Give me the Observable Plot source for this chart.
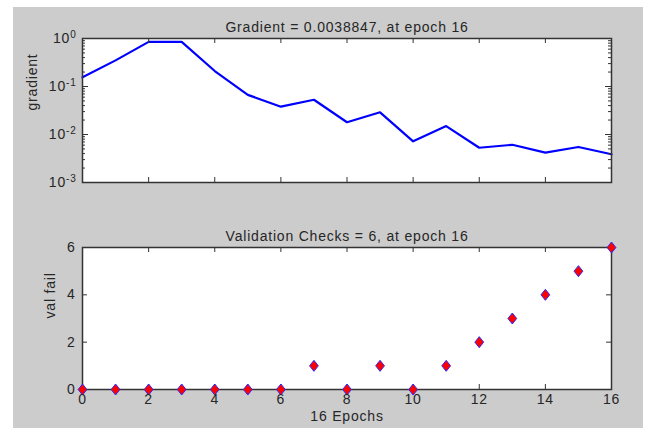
<!DOCTYPE html>
<html>
<head>
<meta charset="utf-8">
<script src="https://cdn.jsdelivr.net/npm/d3@7"></script>
<script src="https://cdn.jsdelivr.net/npm/@observablehq/plot@0.6"></script>
<style>
  html, body { margin: 0; padding: 0; background: #fff; }
  #root { position: relative; width: 645px; height: 428px; background: #fff; overflow: hidden; }
  #bg { position: absolute; left: 13px; top: 7px; width: 630px; height: 421px; background: #cccccc; }
  .panel { position: absolute; left: 0; }
</style>
</head>
<body>
<div id="root"><div id="bg"></div></div>
<script>
// ---- data ----
const epochs = [0, 1, 2, 3, 4, 5, 6, 7, 8, 9, 10, 11, 12, 13, 14, 15, 16];
const gradient = [0.156, 0.35, 0.85, 0.85, 0.21, 0.067, 0.038, 0.053, 0.018, 0.029, 0.0072, 0.015, 0.0053, 0.0061, 0.0042, 0.0055, 0.0038847];
const valFail = [0, 0, 0, 0, 0, 0, 0, 1, 0, 1, 0, 1, 2, 3, 4, 5, 6];
const xTicks = [0, 2, 4, 6, 8, 10, 12, 14, 16];
const gradTicks = [0.001, 0.01, 0.1, 1];
const gradTickLabels = ["10^-3", "10^-2", "10^-1", "10^0"];
const valTicks = [0, 2, 4, 6];
const topTitle = "Gradient = 0.0038847, at epoch 16";
const bottomTitle = "Validation Checks = 6, at epoch 16";
const topYLabel = "gradient";
const bottomYLabel = "val fail";
const xLabel = "16 Epochs";

const W = 645;
const ML = 82, MR = 34;
const FW = W - ML - MR;
const ink = "#262626";
const axisColor = "#333";
const fontStyle = {background: "none", overflow: "visible", fontFamily: "'Liberation Sans', Arial, sans-serif", fontSize: "14px", color: ink, letterSpacing: "0.8px"};

const gradRows = epochs.map((e, i) => ({epoch: e, g: gradient[i]}));
const valRows = epochs.map((e, i) => ({epoch: e, v: valFail[i]}));
const minorLog = d3.scaleLog().domain([0.001, 1]).ticks().filter(t => !gradTicks.some(m => Math.abs(Math.log10(t) - Math.log10(m)) < 1e-9));
const gradLabel = d => {
  const k = gradTicks.findIndex(m => Math.abs(Math.log10(m) - Math.log10(d)) < 1e-9);
  return k < 0 ? "" : gradTickLabels[k];
};

const diamond = {
  draw(ctx, size) {
    const h = Math.sqrt(size) * 0.62, w = h * 0.8;
    ctx.moveTo(0, -h); ctx.lineTo(w, 0); ctx.lineTo(0, h); ctx.lineTo(-w, 0); ctx.closePath();
  }
};

// ---- top panel ----
const H1 = 200, MT1 = 38, MB1 = 18, FH1 = H1 - MT1 - MB1;
const topPlot = Plot.plot({
  width: W, height: H1, marginLeft: ML, marginRight: MR, marginTop: MT1, marginBottom: MB1,
  style: fontStyle,
  x: {domain: [0, 16], axis: null, label: null},
  y: {type: "log", domain: [0.001, 1], axis: null, label: null},
  marks: [
    Plot.frame({fill: "white", stroke: "none"}),
    Plot.line(gradRows, {x: "epoch", y: "g", stroke: "#0000ff", strokeWidth: 2.2}),
    Plot.tickX(xTicks, {x: d => d, stroke: axisColor, insetTop: FH1 - 5}),
    Plot.tickX(xTicks, {x: d => d, stroke: axisColor, insetBottom: FH1 - 5}),
    Plot.tickY(gradTicks, {y: d => d, stroke: axisColor, insetRight: FW - 6}),
    Plot.tickY(gradTicks, {y: d => d, stroke: axisColor, insetLeft: FW - 6}),
    Plot.tickY(minorLog, {y: d => d, stroke: axisColor, insetRight: FW - 3}),
    Plot.tickY(minorLog, {y: d => d, stroke: axisColor, insetLeft: FW - 3}),
    Plot.frame({stroke: axisColor, strokeWidth: 1.5}),
    Plot.axisY(gradTicks, {tickSize: 0, tickPadding: 6, tickFormat: gradLabel, label: null, fill: ink, fontSize: 14}),
    Plot.text([topTitle], {frameAnchor: "top", dy: -16, fill: ink, fontSize: 14}),
    Plot.text([topYLabel], {frameAnchor: "left", dx: -50, rotate: -90, fill: ink, fontSize: 14})
  ]
});
topPlot.classList.add("panel");
topPlot.style.position = "absolute";
topPlot.style.top = "0px";
document.getElementById("root").appendChild(topPlot);

// superscripts for log tick labels
d3.select(topPlot).selectAll("text").each(function () {
  const t = this.textContent;
  if (t.includes("^")) {
    const [b, e] = t.split("^");
    const sel = d3.select(this);
    sel.text(null);
    sel.append("tspan").text(b);
    sel.append("tspan").attr("dy", "-0.5em").attr("font-size", "10px").text(e);
  }
});

// ---- bottom panel ----
const H2 = 228, MT2 = 47, MB2 = 39, FH2 = H2 - MT2 - MB2;
const bottomPlot = Plot.plot({
  width: W, height: H2, marginLeft: ML, marginRight: MR, marginTop: MT2, marginBottom: MB2,
  style: fontStyle,
  x: {domain: [0, 16], axis: null, label: null},
  y: {domain: [0, 6], axis: null, label: null},
  marks: [
    Plot.frame({fill: "white", stroke: "none"}),
    Plot.tickX(xTicks, {x: d => d, stroke: axisColor, insetTop: FH2 - 5}),
    Plot.tickX(xTicks, {x: d => d, stroke: axisColor, insetBottom: FH2 - 5}),
    Plot.tickY(valTicks, {y: d => d, stroke: axisColor, insetRight: FW - 5}),
    Plot.tickY(valTicks, {y: d => d, stroke: axisColor, insetLeft: FW - 5}),
    Plot.frame({stroke: axisColor, strokeWidth: 1.5}),
    Plot.dot(valRows, {x: "epoch", y: "v", symbol: diamond, r: 5, fill: "#ff0000", stroke: "#2a2aff", strokeWidth: 1}),
    Plot.axisY(valTicks, {tickSize: 0, tickPadding: 7, label: null, fill: ink, fontSize: 14}),
    Plot.axisX(xTicks, {tickSize: 0, tickPadding: 5, label: null, fill: ink, fontSize: 14}),
    Plot.text([bottomTitle], {frameAnchor: "top", dy: -16, fill: ink, fontSize: 14}),
    Plot.text([bottomYLabel], {frameAnchor: "left", dx: -32, rotate: -90, fill: ink, fontSize: 14}),
    Plot.text([xLabel], {frameAnchor: "bottom", dy: 31, fill: ink, fontSize: 14})
  ]
});
bottomPlot.classList.add("panel");
bottomPlot.style.position = "absolute";
bottomPlot.style.top = "200px";
document.getElementById("root").appendChild(bottomPlot);
</script>
</body>
</html>
